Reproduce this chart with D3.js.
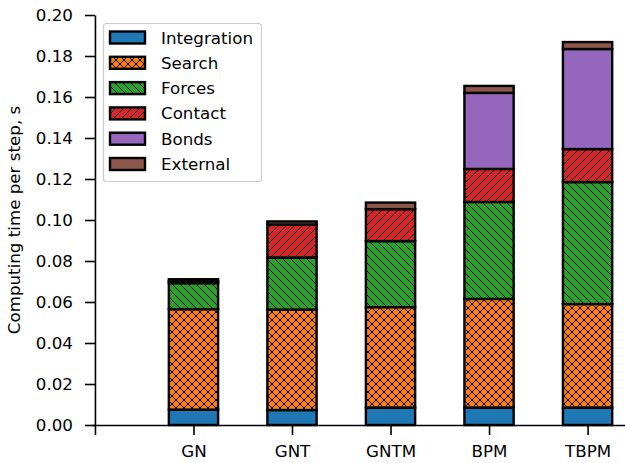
<!DOCTYPE html>
<html>
<head>
<meta charset="utf-8">
<script src="https://cdn.jsdelivr.net/npm/d3@7"></script>
<style>
  body { margin: 0; background: #fff; }
  text { font-family: "DejaVu Sans", sans-serif; }
</style>
</head>
<body>
<svg id="chart" width="625" height="463"></svg>
<script>
// values, seconds per step
const categories = ['GN', 'GNT', 'GNTM', 'BPM', 'TBPM']
const seriesNames = ['Integration', 'Search', 'Forces', 'Contact', 'Bonds', 'External']
const integration = [0.0075, 0.0073, 0.0085, 0.0085, 0.0085]
const search = [0.0490, 0.0490, 0.0490, 0.0530, 0.0505]
const forces = [0.0127, 0.0254, 0.0322, 0.0473, 0.0595]
const contact = [0.0010, 0.0161, 0.0156, 0.0161, 0.0161]
const bonds = [0, 0, 0, 0.0371, 0.0488]
const external = [0.0009, 0.0015, 0.0032, 0.0034, 0.0034]
const yTicks = [0, 0.02, 0.04, 0.06, 0.08, 0.10, 0.12, 0.14, 0.16, 0.18, 0.20]

const colors = ['#1f77b4', '#ff7f0e', '#2ca02c', '#d62728', '#9467bd', '#8c564b']
const hatches = ['', 'xx', '\\', '/', '', '']

const seriesValues = [integration, search, forces, contact, bonds, external]
let table = categories.map((c, i) => {
    let row = { cat: c, pos: i + 1 }
    seriesNames.forEach((s, k) => { row[s] = seriesValues[k][i] })
    return row
})

const svg = d3.select('#chart')
const fontSize = 16.7

let xScale = d3.scaleLinear().domain([-0.03, 5.38]).range([92, 625])
let yScale = d3.scaleLinear().domain([0, 0.2]).range([425, 15])
let barWidth = xScale(0.5) - xScale(0)

// hatch patterns
let defs = svg.append('defs')
const hs = 8
function makePattern(id, color, hatch) {
    let p = defs.append('pattern')
        .attr('id', id)
        .attr('patternUnits', 'userSpaceOnUse')
        .attr('width', hs)
        .attr('height', hs)
    p.append('rect').attr('width', hs).attr('height', hs).attr('fill', color)
    let ne = `M-1,1 l2,-2 M0,${hs} l${hs},-${hs} M${hs - 1},${hs + 1} l2,-2`
    let nw = `M-1,${hs - 1} l2,2 M0,0 l${hs},${hs} M${hs - 1},-1 l2,2`
    let d = ''
    if (hatch.includes('/') || hatch.includes('x')) d += ne
    if (hatch.includes('\\') || hatch.includes('x')) d += ' ' + nw
    p.append('path')
        .attr('d', d)
        .attr('stroke', '#000')
        .attr('stroke-width', 1)
        .attr('fill', 'none')
}
seriesNames.forEach((s, k) => {
    if (hatches[k]) makePattern('hatch' + k, colors[k], hatches[k])
})
function fillFor(k) {
    return hatches[k] ? 'url(#hatch' + k + ')' : colors[k]
}

// stacked bars
let stacked = d3.stack().keys(seriesNames)(table)
svg.append('g')
    .selectAll('g')
    .data(stacked)
    .join('g')
    .attr('fill', (d, k) => fillFor(k))
    .selectAll('rect')
    .data(d => d)
    .join('rect')
    .attr('x', d => xScale(d.data.pos) - barWidth / 2)
    .attr('y', d => yScale(d[1]))
    .attr('width', barWidth)
    .attr('height', d => yScale(d[0]) - yScale(d[1]))
    .attr('stroke', '#000')
    .attr('stroke-width', 2.4)

// axes
let xAxis = d3.axisBottom(xScale)
    .tickValues([0, 1, 2, 3, 4, 5])
    .tickFormat(i => i === 0 ? '' : categories[i - 1])
    .tickSize(10)
    .tickSizeOuter(0)
    .tickPadding(10)

svg.append('g')
    .attr('transform', 'translate(0,' + yScale(0) + ')')
    .call(xAxis)

let yAxis = d3.axisLeft(yScale)
    .tickValues(yTicks)
    .tickFormat(d3.format('.2f'))
    .tickSize(10)
    .tickSizeOuter(0)
    .tickPadding(12)

svg.append('g')
    .attr('transform', 'translate(' + xScale(0) + ',0)')
    .call(yAxis)

svg.selectAll('.domain').attr('stroke', '#000').attr('stroke-width', 1.6)
svg.selectAll('.tick line').attr('stroke', '#000').attr('stroke-width', 1.6)
svg.selectAll('.tick text')
    .attr('fill', '#000')
    .style('font-size', fontSize + 'px')
    .style('font-family', '"DejaVu Sans", sans-serif')

svg.append('text')
    .attr('transform', 'translate(20,220) rotate(-90)')
    .style('text-anchor', 'middle')
    .style('font-size', fontSize + 'px')
    .text('Computing time per step, s')

// legend
let legend = svg.append('g')
legend.append('rect')
    .attr('x', 103.5)
    .attr('y', 23.5)
    .attr('width', 158)
    .attr('height', 158)
    .attr('rx', 3)
    .attr('fill', '#fff')
    .attr('fill-opacity', 0.8)
    .attr('stroke', '#cccccc')
    .attr('stroke-width', 1.2)

let rowStep = 25.3
seriesNames.forEach((s, k) => {
    let cy = 37.5 + k * rowStep
    legend.append('rect')
        .attr('x', 110)
        .attr('y', cy - 6)
        .attr('width', 35)
        .attr('height', 12)
        .attr('fill', fillFor(k))
        .attr('stroke', '#000')
        .attr('stroke-width', 2.4)
    legend.append('text')
        .attr('x', 161)
        .attr('y', cy)
        .attr('dy', '0.36em')
        .style('font-size', fontSize + 'px')
        .text(s)
})
</script>
</body>
</html>
